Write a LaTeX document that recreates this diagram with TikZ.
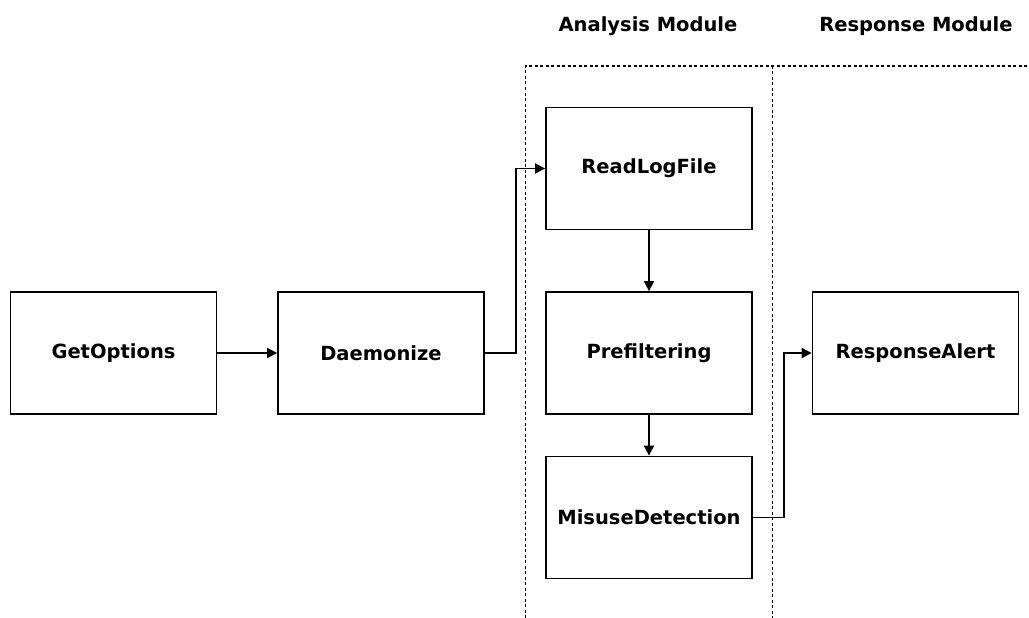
\documentclass[tikz,border=0pt]{standalone}
\usepackage{fontspec}
\setmainfont{DejaVu Sans}
\usetikzlibrary{arrows.meta}
\begin{document}
\begin{tikzpicture}[x=1pt,y=-1pt,
  box/.style={draw, line width=1.8pt, minimum width=206pt, minimum height=122pt, inner sep=0pt, font=\fontsize{19.5}{22}\selectfont\bfseries},
  conn/.style={line width=1.8pt, -{Triangle[length=10pt,width=10pt]}},
  sep/.style={line width=1.6pt, dash pattern=on 3pt off 2.5pt},
  lbl/.style={font=\fontsize{19.5}{22}\selectfont\bfseries, inner sep=0pt}]
\useasboundingbox (0,0) rectangle (1029,618);
\node[box] (go) at (113.5,353) {GetOptions};
\node[box] (dm) at (381,353) {Daemonize};
\node[box] (rl) at (649,168.5) {ReadLogFile};
\node[box] (pf) at (649,353) {Prefiltering};
\node[box] (md) at (649,517.5) {MisuseDetection};
\node[box] (ra) at (915.5,353) {ResponseAlert};
\coordinate (tl) at (525.5,66);
\coordinate (tm) at (772.5,66);
\coordinate (tr) at (1029,66);
\coordinate (bl) at (525.5,618);
\coordinate (bm) at (772.5,618);
\draw[sep] (bl) -- (tl) -- (tr);
\draw[sep] (tm) -- (bm);
\node[lbl] (am) at (648,26) {Analysis Module};
\node[lbl] (rm) at (916,26) {Response Module};
\draw[conn] (go) -- (dm);
\draw[conn] (dm.east) -- ++(31,0) |- (rl.west);
\draw[conn] (rl) -- (pf);
\draw[conn] (pf) -- (md);
\draw[conn] (md.east) -- ++(31,0) |- (ra.west);
\end{tikzpicture}
\end{document}
